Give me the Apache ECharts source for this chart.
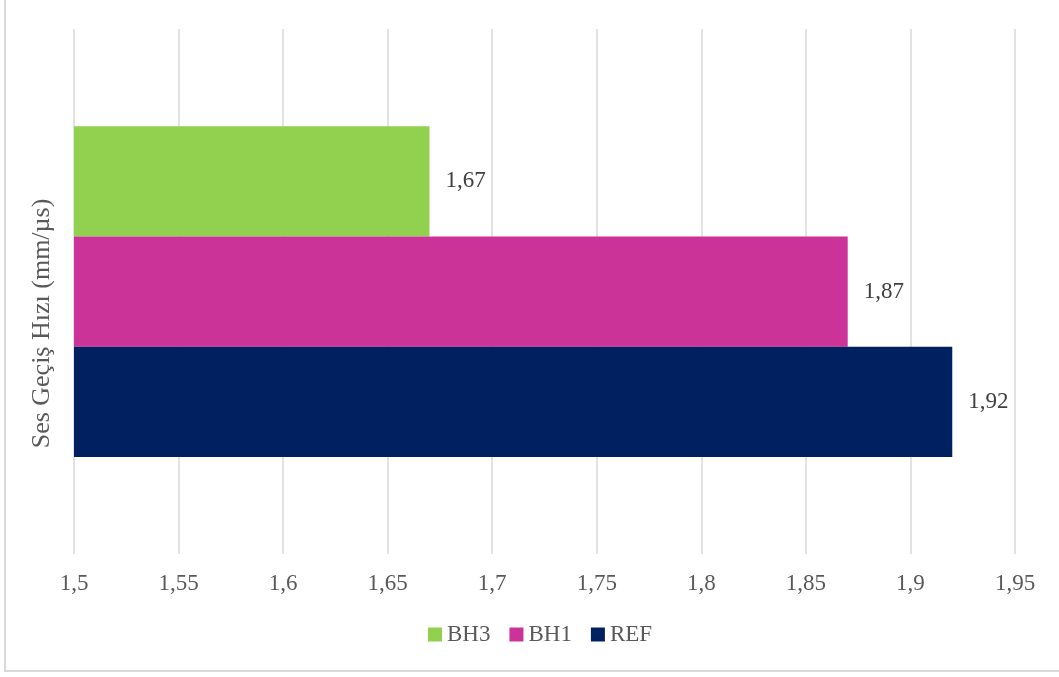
<!DOCTYPE html>
<html>
<head>
<meta charset="utf-8">
<script src="https://cdn.jsdelivr.net/npm/echarts@6/dist/echarts.min.js"></script>
<style>
  html, body { margin: 0; padding: 0; background: #fff; }
  #chart { width: 1059px; height: 677px; }
</style>
</head>
<body>
<div id="chart"></div>
<script>
// Sound transmission speed per mix (mm/µs)
const categories = ['Ses Geçiş Hızı'];
const seriesNames = ['BH3', 'BH1', 'REF'];
const seriesColors = ['#92d050', '#cc3399', '#002060'];
const bh3Values = [1.67];
const bh1Values = [1.87];
const refValues = [1.92];
const xTicks = { min: 1.5, max: 1.95, interval: 0.05 };

const valueSets = [bh3Values, bh1Values, refValues];
const serif = '"Liberation Serif", "Times New Roman", serif';
const fmt = v => String(Math.round(v * 100) / 100).replace('.', ',');

const chart = echarts.init(document.getElementById('chart'), null, { renderer: 'canvas' });
chart.setOption({
  animation: false,
  backgroundColor: '#ffffff',
  textStyle: { fontFamily: serif },
  graphic: [{
    type: 'rect',
    shape: { x: 5, y: -1, width: 1070, height: 672 },
    style: { fill: 'none', stroke: '#d9d9d9', lineWidth: 2 },
    silent: true,
    z: -10
  }],
  grid: { left: 74, right: 44, top: 29, bottom: 123, containLabel: false },
  legend: {
    data: seriesNames,
    top: 618,
    left: 423,
    itemWidth: 14,
    itemHeight: 14,
    itemGap: 19,
    icon: 'rect',
    textStyle: { fontFamily: serif, fontSize: 23, color: '#595959' }
  },
  xAxis: {
    type: 'value',
    min: xTicks.min,
    max: xTicks.max,
    interval: xTicks.interval,
    axisLine: { show: false },
    axisTick: { show: false },
    axisLabel: {
      margin: 18,
      fontFamily: serif,
      fontSize: 23,
      color: '#595959',
      formatter: fmt
    },
    splitLine: { show: true, lineStyle: { color: '#d9d9d9', width: 1.5 } }
  },
  yAxis: {
    type: 'category',
    data: categories,
    inverse: true,
    axisLine: { show: false },
    axisTick: { show: false },
    axisLabel: { show: false },
    name: 'Ses Geçiş Hızı (mm/µs)',
    nameLocation: 'middle',
    nameGap: 19,
    nameRotate: 90,
    nameTextStyle: { fontFamily: serif, fontSize: 26, color: '#595959', padding: [0, 0, 0, -64] }
  },
  series: seriesNames.map((name, i) => ({
    name,
    type: 'bar',
    data: valueSets[i],
    barGap: '0%',
    barCategoryGap: '37%',
    itemStyle: { color: seriesColors[i] },
    label: {
      show: true,
      position: 'right',
      distance: 16,
      fontFamily: serif,
      fontSize: 23,
      color: '#404040',
      formatter: p => fmt(p.value)
    }
  }))
});
</script>
</body>
</html>
